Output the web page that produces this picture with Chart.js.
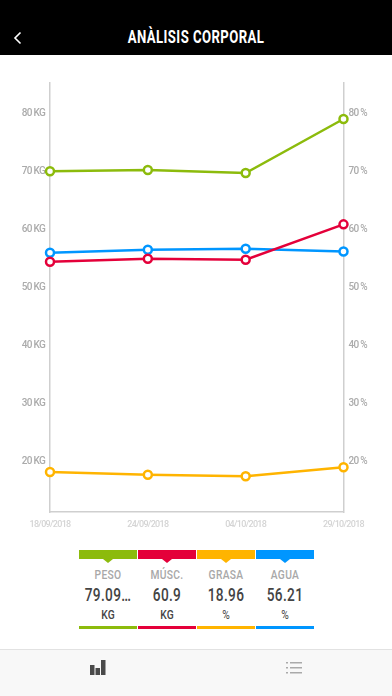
<!DOCTYPE html>
<html>
<head>
<meta charset="utf-8">
<title>Anàlisis corporal</title>
<script src="https://cdn.jsdelivr.net/npm/chart.js@4"></script>
<style>
  html, body { margin: 0; padding: 0; background: #fff; }
  body { width: 392px; height: 696px; position: relative; overflow: hidden; font-family: 'Roboto', sans-serif; }
  #top { position: absolute; left: 0; top: 0; width: 392px; height: 55px; background: #000; }
  #top svg { position: absolute; left: 13px; top: 31px; }
  #top h1 { position: absolute; left: 0; top: 27px; width: 392px; margin: 0; text-align: center; color: #fff; font-size: 18px; line-height: 20px; font-weight: bold; letter-spacing: 0.6px; transform: scaleX(0.73); }
  #wrap { position: absolute; left: 0; top: 55px; width: 392px; height: 485px; }
  #legend { position: absolute; left: 79px; top: 550px; display: flex; gap: 1px; }
  .col { width: 58px; height: 79px; position: relative; text-align: center; }
  .bar { position: absolute; left: 0; top: 0; width: 100%; height: 9px; }
  .arrow { position: absolute; left: 24px; top: 9px; width: 0; height: 0; border-left: 5px solid transparent; border-right: 5px solid transparent; border-top: 4px solid; }
  .line { position: absolute; left: 0; top: 76px; width: 100%; height: 3px; }
  .name, .val, .unit { position: absolute; left: -2px; right: -2px; white-space: nowrap; transform: scaleX(0.76); }
  .name { top: 17px; font-size: 13.5px; line-height: 15px; font-weight: 500; color: #a8a8a8; letter-spacing: 0.4px; }
  .val { top: 35px; font-size: 18px; line-height: 20px; font-weight: 500; color: #444; letter-spacing: 0.4px; }
  .unit { top: 57px; font-size: 13.5px; line-height: 15px; font-weight: 500; color: #444; }
  #foot { position: absolute; left: 0; top: 649px; width: 392px; height: 47px; background: #f8f8f8; border-top: 1px solid #e2e2e2; box-sizing: border-box; }
  #foot svg { position: absolute; }
</style>
</head>
<body>
<div id="top">
  <svg width="10" height="14" viewBox="0 0 10 14"><path d="M7.5 1.500 L2 7 L7.500 12.500" fill="none" stroke="#fff" stroke-width="1.600"/></svg>
  <h1>ANÀLISIS CORPORAL</h1>
</div>
<div id="wrap"><canvas id="chart_analisis"></canvas></div>
<div id="legend"></div>
<div id="foot">
  <svg style="left:90px;top:10px" width="16" height="15" viewBox="0 0 16 15"><path d="M0 5h4.500v10H0zM5.500 8h4.500v7H5.500zM11 0h4.500v15H11z" fill="#4a4a4a"/></svg>
  <svg style="left:286px;top:12px" width="16" height="12" viewBox="0 0 16 12"><path d="M0 0h2v1.500H0zM4 0h12v1.500H4zM0 5h2v1.500H0zM4 5h12v1.500H4zM0 10h2v1.500H0zM4 10h12v1.500H4z" fill="#aaa"/></svg>
</div>
<script>
var dates = ['18/09/2018', '24/09/2018', '04/10/2018', '29/10/2018'];
var kgTicks = [20, 30, 40, 50, 60, 70, 80];

var peso = [70.06, 70.28, 69.76, 79.09];
var musc = [54.45, 54.96, 54.79, 60.9];
var grasa = [18.15, 17.68, 17.4, 18.96];
var agua = [56.0, 56.52, 56.69, 56.21];

var names = ['PESO', 'MÚSC.', 'GRASA', 'AGUA'];
var shown = ['79.09…', '60.9', '18.96', '56.21'];
var units = ['KG', 'KG', '%', '%'];
var colors = ['#8cbb0c', '#e4003a', '#ffb400', '#0096ff'];

function series(label, data, color) {
  return {
    label: label,
    data: data,
    borderColor: color,
    backgroundColor: '#fff',
    borderWidth: 2.5,
    pointRadius: 4,
    pointBorderWidth: 2.5,
    pointBackgroundColor: '#fff',
    pointBorderColor: color,
    tension: 0,
    clip: false
  };
}

function yAxis(position, suffix, width) {
  return {
    type: 'linear',
    position: position,
    min: 11.24,
    max: 85.3,
    grid: { display: false, drawTicks: false },
    border: { display: true, color: '#cfcfcf', width: 1.5 },
    afterBuildTicks: function(axis) {
      axis.ticks = kgTicks.map(function(v) { return { value: v }; });
    },
    afterFit: function(axis) { axis.width = width; },
    ticks: {
      padding: 5,
      color: '#ababab',
      font: { family: 'Roboto', size: 10, weight: 500 },
      callback: function(value) { return value + suffix; }
    }
  };
}

var chart_analisis = new Chart(document.getElementById('chart_analisis'), {
  type: 'line',
  data: {
    labels: dates,
    datasets: [
      series('Peso', peso, colors[0]),
      series('Músc.', musc, colors[1]),
      series('Grasa', grasa, colors[2]),
      series('Agua', agua, colors[3])
    ]
  },
  options: {
    animation: false,
    responsive: true,
    maintainAspectRatio: false,
    layout: { padding: { top: 28, left: 0, right: 0, bottom: 0 } },
    plugins: { legend: { display: false }, tooltip: { enabled: false } },
    scales: {
      x: {
        grid: { display: false, drawTicks: false },
        border: { display: true, color: '#cfcfcf', width: 1.5 },
        afterFit: function(axis) { axis.height = 28; },
        ticks: {
          padding: 7,
          maxRotation: 0,
          autoSkip: false,
          color: '#d4d4d4',
          font: { family: 'Roboto', size: 9, weight: 500 }
        }
      },
      y: yAxis('left', ' KG', 50),
      y1: yAxis('right', ' %', 48.5)
    }
  },
  plugins: [{
    id: 'narrowText',
    beforeDraw: function(chart) {
      chart.ctx.letterSpacing = '-0.7px';
    }
  }]
});

var legend = document.getElementById('legend');
names.forEach(function(name, i) {
  var c = colors[i];
  var col = document.createElement('div');
  col.className = 'col';
  col.innerHTML = '<div class="bar" style="background:' + c + '"></div>' +
    '<div class="arrow" style="border-top-color:' + c + '"></div>' +
    '<div class="name">' + name + '</div>' +
    '<div class="val">' + shown[i] + '</div>' +
    '<div class="unit"' + (units[i] === '%' ? ' style="font-weight:400"' : '') + '>' + units[i] + '</div>' +
    '<div class="line" style="background:' + c + '"></div>';
  legend.appendChild(col);
});
</script>
</body>
</html>
